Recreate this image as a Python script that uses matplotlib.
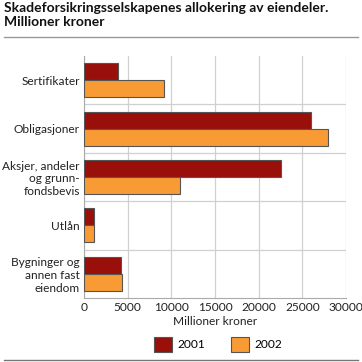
import matplotlib
matplotlib.use("Agg")
import matplotlib.pyplot as plt
import numpy as np

categories = ["Sertifikater", "Obligasjoner", "Aksjer, andeler\nog grunn-\nfondsbevis", "Utlån",
              "Bygninger og\nannen fast\neiendom"]
values_2001 = [3900, 26000, 22600, 1100, 4250]
values_2002 = [9200, 27900, 11000, 1200, 4400]
series_labels = ["2001", "2002"]
xticks = [0, 5000, 10000, 15000, 20000, 25000, 30000]

plt.rcParams['font.family'] = ['Lato', 'DejaVu Sans']

W, H = 362, 362
fig = plt.figure(figsize=(W/100, H/100), dpi=100)
ax = fig.add_axes([84/W, 1-298/H, (346-84)/W, (298-56)/H])

n = len(categories)
y = np.arange(n)
h = 0.35
c1, c2 = "#990f0a", "#f89b34"
ax.barh(y - h/2, values_2001, height=h, color=c1, edgecolor="#555555", linewidth=0.8, label=series_labels[0], zorder=3)
ax.barh(y + h/2, values_2002, height=h, color=c2, edgecolor="#555555", linewidth=0.8, label=series_labels[1], zorder=3)

fs = 8.6
ax.set_ylim(n - 0.5, -0.5)
ax.set_xlim(0, 30000)
ax.set_yticks(y)
ax.set_yticklabels(categories, fontsize=fs, linespacing=1.2)
ax.set_xticks(xticks)
ax.set_xticklabels([str(v) for v in xticks], fontsize=fs)
ax.tick_params(axis='both', length=0, pad=3, colors="#222222")
for b in np.arange(0.5, n - 0.5, 1):
    ax.axhline(b, color="#d0d0d0", linewidth=0.9, zorder=1)
ax.grid(axis='x', color="#d0d0d0", linewidth=0.9, zorder=1)
for s in ["top", "right"]:
    ax.spines[s].set_visible(False)
ax.spines["left"].set_color("#aaaaaa")
ax.spines["bottom"].set_color("#aaaaaa")
ax.set_xlabel("Millioner kroner", fontsize=fs, labelpad=2, color="#222222")

fig.text(4/W, 1-2/H, "Skadeforsikringsselskapenes allokering av eiendeler.\nMillioner kroner",
         fontsize=10, fontweight='bold', va='top', ha='left', linespacing=1.15, color="#111111")
fig.add_artist(plt.Line2D([4/W, 358/W], [1-36.5/H, 1-36.5/H], color="#999999", linewidth=1))
fig.add_artist(plt.Line2D([4/W, 358/W], [1-360/H, 1-360/H], color="#777777", linewidth=1))

leg = fig.legend(loc='center', bbox_to_anchor=(218/W, 1-344.5/H), ncol=2, frameon=False, fontsize=fs,
                 handlelength=1.5, handleheight=1.5, columnspacing=2.2, handletextpad=0.45)

fig.savefig("out.png", dpi=100)
